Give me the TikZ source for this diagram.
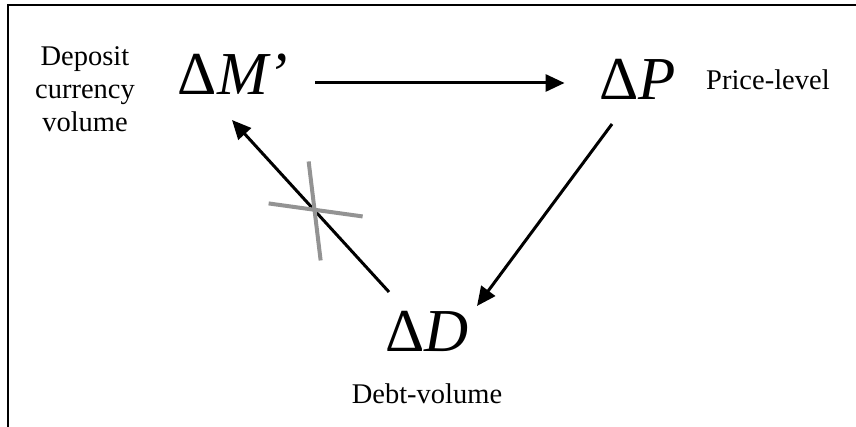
\documentclass[tikz,border=0pt]{standalone}
\usepackage{fontspec}
\setmainfont{Liberation Serif}
\usetikzlibrary{arrows.meta}
\begin{document}
\begin{tikzpicture}[x=1pt,y=1pt,
  big/.style={inner sep=0pt,font=\fontsize{61}{61}\selectfont},
  lbl/.style={inner sep=0pt,font=\fontsize{28.5}{33}\selectfont},
  arr/.style={line width=3pt,-{Triangle[length=19pt,width=17pt]}},
  xmark/.style={line width=4pt,draw=gray!85}]
\useasboundingbox (0,0) rectangle (856,427);
\draw[line width=2.5pt] (856,422) -- (8,422) -- (8,0);
\node[big,anchor=base] (DM) at (233,332) {Δ\textit{M’}};
\node[big,anchor=base] (DP) at (638,327) {Δ\textit{P}};
\node[big,anchor=base] (DD) at (427,75) {Δ\textit{D}};
\node[lbl,align=center] (lDM) at (85,338) {Deposit\\currency\\volume};
\node[lbl,anchor=base west] (lDP) at (706,337) {Price-level};
\node[lbl,anchor=base] (lDD) at (427,23) {Debt-volume};
\draw[arr] ([shift={(27,12)}]DM.base east) -- ([shift={(-35,17)}]DP.base west);
\draw[arr] ([shift={(-26,-24)}]DP.base) -- ([shift={(50,46)}]DD.base);
\draw[arr] ([shift={(-38,60)}]DD.base) -- coordinate[pos=0.48] (cross) ([shift={(-1,-25)}]DM.base);
\draw[xmark] ([shift={(-45,6)}]cross) -- ([shift={(49,-7)}]cross);
\draw[xmark] ([shift={(-5,48)}]cross) -- ([shift={(7,-51)}]cross);
\end{tikzpicture}
\end{document}
